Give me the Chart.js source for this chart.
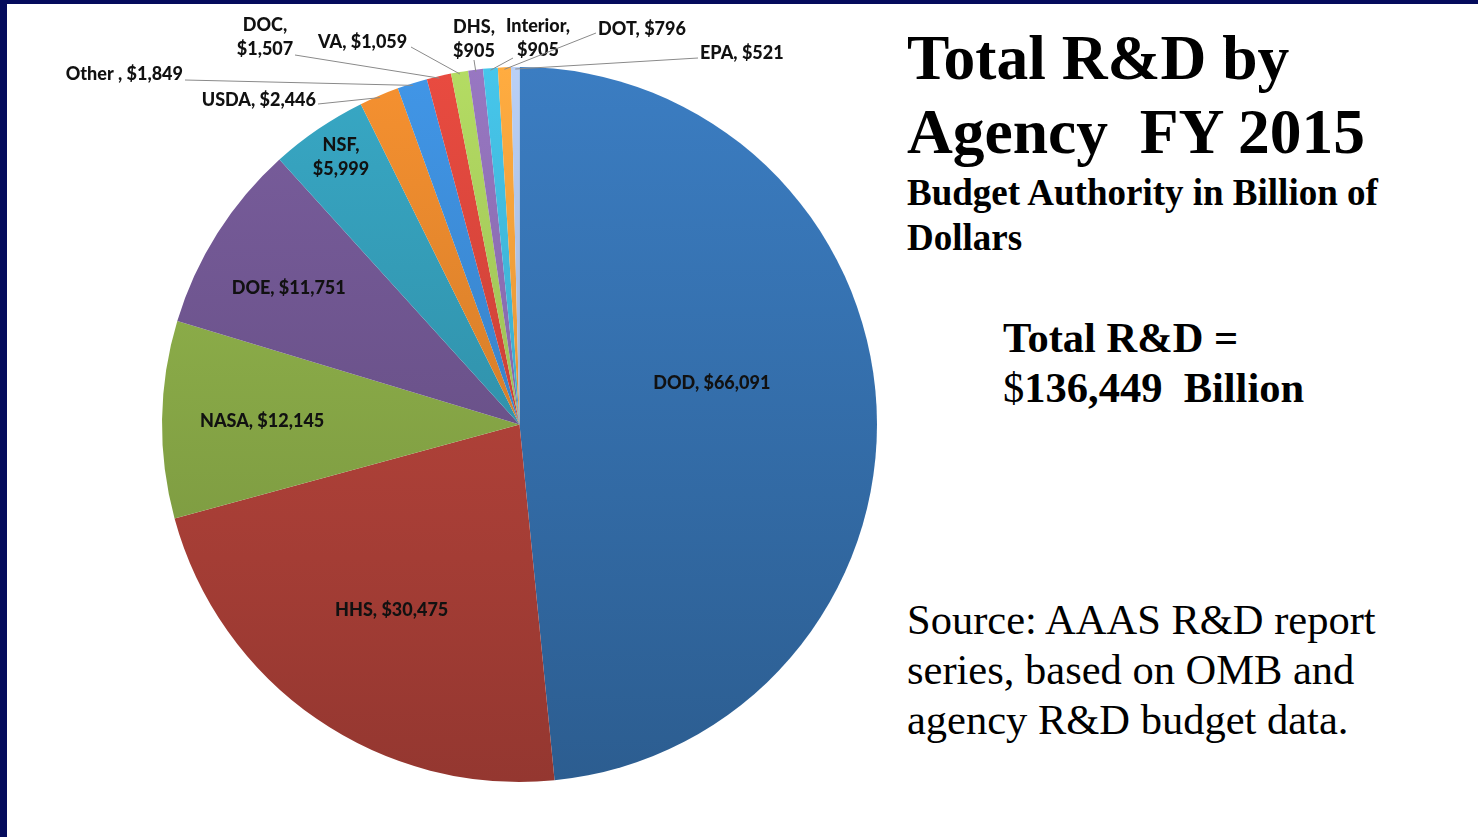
<!DOCTYPE html>
<html>
<head>
<meta charset="utf-8">
<script src="https://cdn.jsdelivr.net/npm/chart.js@4.4.1/dist/chart.umd.min.js"></script>
<style>
  html, body { margin: 0; padding: 0; background: #fff; }
  body { width: 1478px; height: 837px; position: relative; overflow: hidden; }
  #frameTop { position: absolute; left: 0; top: 0; width: 1478px; height: 4px; background: #040b5c; }
  #frameLeft { position: absolute; left: 0; top: 0; width: 7px; height: 837px; background: #040b5c; }
  #pieBox { position: absolute; left: 0; top: 0; width: 900px; height: 837px; }
  .txt { position: absolute; left: 907px; font-family: "Liberation Serif", "Times New Roman", serif; color: #000; white-space: nowrap; }
  #title { top: 21px; font-size: 63.5px; font-weight: bold; line-height: 74px; }
  #subtitle { top: 170px; font-size: 37px; font-weight: bold; line-height: 45px; }
  #total { left: 1003px; top: 313px; font-size: 42.5px; font-weight: bold; line-height: 50px; }
  #total .plain { font-weight: normal; }
  #source { top: 595px; font-size: 42.5px; line-height: 50px; }
</style>
</head>
<body>
<div id="pieBox"><canvas id="pie" width="900" height="837"></canvas></div>
<div id="frameTop"></div>
<div id="frameLeft"></div>
<div class="txt" id="title">Total R&amp;D by<br>Agency&nbsp; FY 2015</div>
<div class="txt" id="subtitle">Budget Authority in Billion of<br>Dollars</div>
<div class="txt" id="total">Total R&amp;D =<br><span class="plain">$</span>136,449&nbsp; Billion</div>
<div class="txt" id="source">Source: AAAS R&amp;D report<br>series, based on OMB and<br>agency R&amp;D budget data.</div>
<script>
// FY 2015 R&D budget authority, millions of dollars, clockwise from 12 o'clock
const agencies = ['DOD', 'HHS', 'NASA', 'DOE', 'NSF', 'USDA', 'Other ', 'DOC', 'VA', 'DHS', 'Interior', 'DOT', 'EPA'];
const amounts = [66091, 30475, 12145, 11751, 5999, 2446, 1849, 1507, 1059, 905, 905, 796, 521];

const sliceColors = ['#3672b0', '#b5433a', '#8aab48', '#6f5590', '#3399b3', '#e0842c', '#3b88d2',
                     '#d4443a', '#a4c85a', '#8a6cb0', '#40b4d6', '#f89c3a', '#a9bde0'];

function shade(hex, f) {
    const n = parseInt(hex.slice(1), 16);
    const c = [n >> 16, (n >> 8) & 255, n & 255].map(v => Math.max(0, Math.min(255, Math.round(v * f))));
    return `rgb(${c[0]},${c[1]},${c[2]})`;
}

function money(v) {
    return '$' + v.toLocaleString('en-US');
}

// inside labels: radius fraction and angle shift (radians) from the slice middle
const insideLabels = {
    0: { r: 0.55, da: -0.16 },
    1: { r: 0.63, da: 0 },
    2: { r: 0.72, da: 0 },
    3: { r: 0.75, da: -0.03 },
    4: { r: 0.90, da: 0.01, split: true }
};

// outside labels: text lines, align, where the text sits and where the leader starts
const outsideLabels = {
    5: { align: 'right', x: 316, y: 100, split: false, lx: 318, ly: 104 },
    6: { align: 'right', x: 183, y: 74, split: false, lx: 185, ly: 80 },
    7: { align: 'center', x: 265, y: 25, split: true, lx: 295, ly: 55 },
    8: { align: 'left', x: 318, y: 42, split: false, lx: 411, ly: 47 },
    9: { align: 'center', x: 474, y: 27, split: true, lx: 474, ly: 60 },
    10: { align: 'center', x: 538, y: 26, split: true, lx: 513, ly: 58 },
    11: { align: 'left', x: 598, y: 29, split: false, lx: 596, ly: 33 },
    12: { align: 'left', x: 700, y: 53, split: false, lx: 698, ly: 58 }
};

const sliceLabels = {
    id: 'sliceLabels',
    afterDatasetsDraw(chart) {
        const ctx = chart.ctx;
        const arcs = chart.getDatasetMeta(0).data;
        ctx.save();
        ctx.font = '900 18px Lato, "Open Sans", sans-serif';
        ctx.fillStyle = '#111111';
        ctx.textBaseline = 'middle';
        arcs.forEach((arc, i) => {
            const p = arc.getProps(['x', 'y', 'startAngle', 'endAngle', 'outerRadius'], true);
            const mid = (p.startAngle + p.endAngle) / 2;
            const head = agencies[i] + ',';
            const val = money(amounts[i]);
            if (insideLabels[i]) {
                const L = insideLabels[i];
                const a = mid + L.da;
                const tx = p.x + Math.cos(a) * p.outerRadius * L.r;
                const ty = p.y + Math.sin(a) * p.outerRadius * L.r;
                ctx.textAlign = 'center';
                if (L.split) {
                    ctx.fillText(head, tx, ty - 12);
                    ctx.fillText(val, tx, ty + 12);
                } else {
                    ctx.fillText(head + ' ' + val, tx, ty);
                }
            } else if (outsideLabels[i]) {
                const L = outsideLabels[i];
                const ex = p.x + Math.cos(mid) * (p.outerRadius - 2);
                const ey = p.y + Math.sin(mid) * (p.outerRadius - 2);
                ctx.strokeStyle = '#8a8a8a';
                ctx.lineWidth = 1;
                ctx.beginPath();
                ctx.moveTo(L.lx, L.ly);
                ctx.lineTo(ex, ey);
                ctx.stroke();
                ctx.textAlign = L.align;
                if (L.split) {
                    ctx.fillText(head, L.x, L.y);
                    ctx.fillText(val, L.x, L.y + 24);
                } else {
                    ctx.fillText(head + ' ' + val, L.x, L.y);
                }
            }
        });
        ctx.restore();
    }
};

const pieCtx = document.getElementById('pie').getContext('2d');
new Chart(pieCtx, {
    type: 'pie',
    data: {
        labels: agencies,
        datasets: [{
            data: amounts,
            borderWidth: 0,
            backgroundColor: c => {
                const area = c.chart.chartArea;
                const base = sliceColors[c.dataIndex];
                if (!area) return base;
                const g = c.chart.ctx.createLinearGradient(0, area.top, 0, area.bottom);
                g.addColorStop(0, shade(base, 1.1));
                g.addColorStop(1, shade(base, 0.82));
                return g;
            }
        }]
    },
    options: {
        responsive: false,
        animation: false,
        layout: { padding: { left: 162, right: 23, top: 67, bottom: 55 } },
        plugins: {
            legend: { display: false },
            tooltip: { enabled: false }
        }
    },
    plugins: [sliceLabels]
});
</script>
</body>
</html>
